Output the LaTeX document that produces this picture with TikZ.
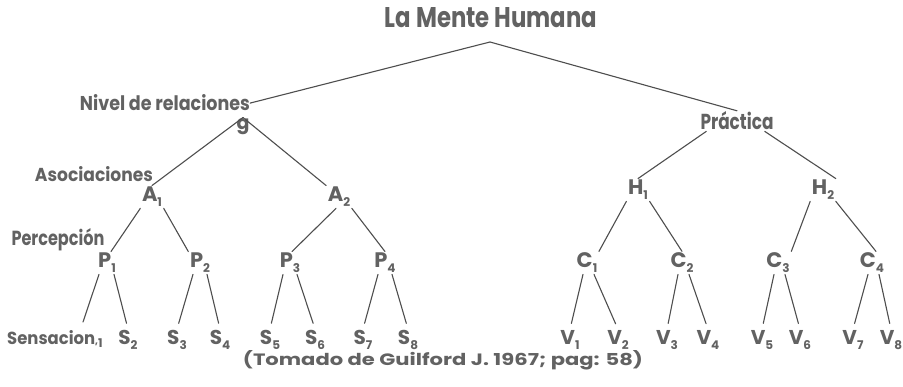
\documentclass[tikz,border=0pt]{standalone}
\usepackage{fontspec}
\setmainfont{Poppins}
\definecolor{ink}{RGB}{98,98,98}
\definecolor{wire}{RGB}{78,78,78}
\newcommand\sbs[1]{\raisebox{-0.4ex}{\fontsize{12}{12}\selectfont #1}}
\tikzset{
  lbl/.style={inner sep=0pt, anchor=base, text=ink, font=\bfseries},
  let/.style={inner sep=1.5pt, anchor=base, text=ink, font=\fontsize{21}{22}\selectfont\bfseries},
  leaf/.style={let, font=\fontsize{20}{22}\selectfont\bfseries},
  edge/.style={draw=wire, line width=1.1pt, line cap=round},
  lf/.style={edge, shorten >=6pt},
}
\begin{document}
\begin{tikzpicture}[x=1pt,y=-1pt]
\useasboundingbox[fill=white] (0,0) rectangle (903,387);
% text labels
\node[lbl] (title) at (491,28) {\resizebox{212pt}{20pt}{La Mente Humana}};
\node[lbl] (nivel) at (165,111) {\resizebox{170pt}{16pt}{Nivel de relaciones}};
\node[lbl] (asoc) at (94,182) {\resizebox{118pt}{15pt}{Asociaciones}};
\node[lbl] (perc) at (58,246) {\resizebox{93pt}{17pt}{Percepción}};
\node[lbl, inner sep=1pt] (prac) at (737,130) {\resizebox{73pt}{18pt}{Práctica}};
\node[lbl] (cite) at (443,366) {\resizebox{400pt}{15pt}{(Tomado de Guilford J. 1967; pag: 58)}};
\coordinate (apex) at (490,42);
% left tree
\node[let, font=\fontsize{19}{20}\selectfont\bfseries] (g) at (243,130) {g};
\node[let] (A1) at (152,202) {A\sbs{1}};
\node[let] (A2) at (339,202) {A\sbs{2}};
\node[let] (P1) at (107,268) {P\sbs{1}};
\node[let] (P2) at (200,268) {P\sbs{2}};
\node[let] (P3) at (290,268) {P\sbs{3}};
\node[let] (P4) at (385,268) {P\sbs{4}};
\node[lbl, anchor=base west] (S1) at (7,345) {\resizebox{88pt}{14pt}{Sensacion},\sbs{1}};
\coordinate (s1top) at (83,322);
\node[leaf] (S2) at (128,345) {S\sbs{2}};
\node[leaf] (S3) at (177,345) {S\sbs{3}};
\node[leaf] (S4) at (220,345) {S\sbs{4}};
\node[leaf] (S5) at (270,345) {S\sbs{5}};
\node[leaf] (S6) at (315,345) {S\sbs{6}};
\node[leaf] (S7) at (363,345) {S\sbs{7}};
\node[leaf] (S8) at (408,345) {S\sbs{8}};
% right tree
\node[let] (H1) at (638,195) {H\sbs{1}};
\node[let] (H2) at (823,195) {H\sbs{2}};
\node[let] (C1) at (587,268) {C\sbs{1}};
\node[let] (C2) at (682,268) {C\sbs{2}};
\node[let] (C3) at (778,268) {C\sbs{3}};
\node[let] (C4) at (872,268) {C\sbs{4}};
\node[leaf] (V1) at (570,345) {V\sbs{1}};
\node[leaf] (V2) at (618,345) {V\sbs{2}};
\node[leaf] (V3) at (667,345) {V\sbs{3}};
\node[leaf] (V4) at (708,345) {V\sbs{4}};
\node[leaf] (V5) at (762,345) {V\sbs{5}};
\node[leaf] (V6) at (800,345) {V\sbs{6}};
\node[leaf] (V7) at (853,345) {V\sbs{7}};
\node[leaf] (V8) at (891,345) {V\sbs{8}};
% connectors
\draw[edge] (nivel.east) -- (apex) -- (prac.north);
\draw[edge] (g.north) -- (A1.north);
\draw[edge] (g.north) -- (A2.north west);
\draw[edge] (A1.south west) -- ([xshift=4pt]P1.north);
\draw[edge] (A1.south east) -- (P2.north west);
\draw[edge] ([xshift=-3pt]A2.south) -- ([xshift=2pt]P3.north);
\draw[edge] (A2.south east) -- (P4.north);
\draw[edge] ([xshift=7pt]prac.south west) -- (H1.north);
\draw[edge] ([xshift=-10pt]prac.south east) -- (H2.north east);
\draw[edge] (H1.south west) -- (C1.north east);
\draw[edge] (H1.south east) -- (C2.north);
\draw[edge] (H2.south west) -- (C3.north east);
\draw[edge] (H2.south east) -- ([xshift=4pt]C4.north);
\draw[edge] ([xshift=-8pt]P1.south) -- (s1top);
\draw[lf] ([xshift=7pt]P1.south) -- (S2.north);
\draw[lf] ([xshift=-7pt]P2.south) -- (S3.north);
\draw[lf] ([xshift=7pt]P2.south) -- (S4.north);
\draw[lf] ([xshift=-7pt]P3.south) -- (S5.north);
\draw[lf] ([xshift=7pt]P3.south) -- (S6.north);
\draw[lf] ([xshift=-7pt]P4.south) -- (S7.north);
\draw[lf] ([xshift=7pt]P4.south) -- (S8.north);
\draw[lf] ([xshift=-4pt]C1.south) -- (V1.north);
\draw[lf] ([xshift=7pt]C1.south) -- (V2.north);
\draw[lf] ([xshift=-4pt]C2.south) -- (V3.north);
\draw[lf] ([xshift=7pt]C2.south) -- (V4.north);
\draw[lf] ([xshift=-4pt]C3.south) -- (V5.north);
\draw[lf] ([xshift=7pt]C3.south) -- (V6.north);
\draw[lf] ([xshift=-4pt]C4.south) -- (V7.north);
\draw[lf] ([xshift=7pt]C4.south) -- (V8.north);
\end{tikzpicture}
\end{document}
